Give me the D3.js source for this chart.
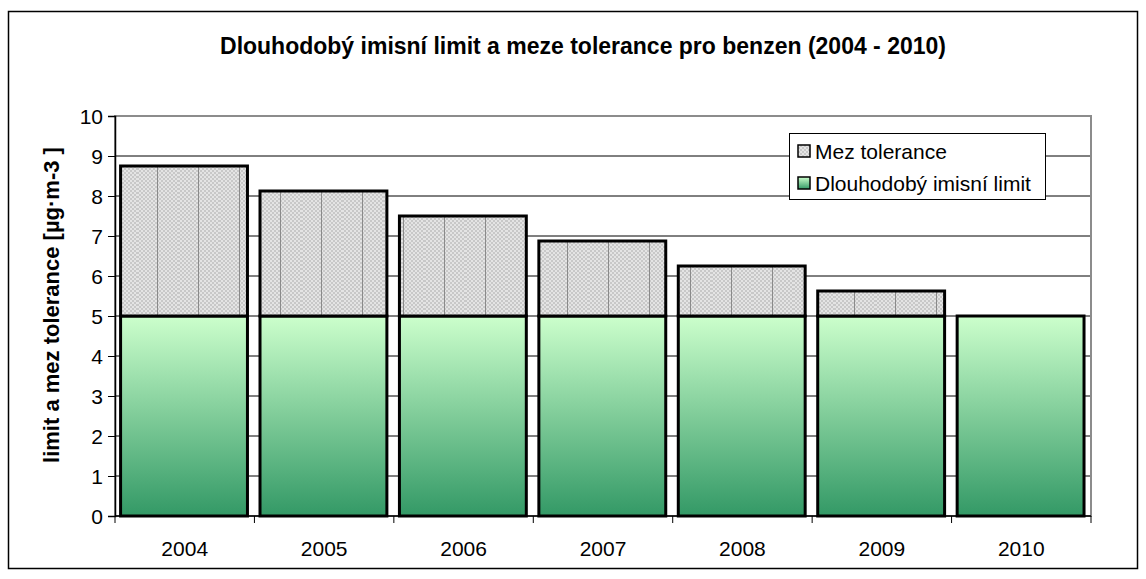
<!DOCTYPE html>
<meta charset="utf-8">
<style>
    body { margin: 0; background: #fff; }
    text { font-family: Arial, "Liberation Sans", sans-serif; fill: #000; }
    .title { font-size: 23px; font-weight: bold; text-anchor: middle; }
    .ylabel { font-size: 22px; font-weight: bold; text-anchor: middle; }
    .tick text { font-size: 21px; }
    .legend text { font-size: 21px; }
</style>
<svg width="1146" height="579"></svg>
<script src="https://d3js.org/d3.v7.min.js"></script>
<script>

    var years = ["2004", "2005", "2006", "2007", "2008", "2009", "2010"];
    var limit = [5, 5, 5, 5, 5, 5, 5];
    var tolerance = [3.75, 3.125, 2.5, 1.875, 1.25, 0.625, 0];
    var yTicks = [0, 1, 2, 3, 4, 5, 6, 7, 8, 9, 10];
    var seriesNames = ["Mez tolerance", "Dlouhodobý imisní limit"];

    var svg = d3.select("svg"),
        pLeft = 115, pRight = 1091, pTop = 116, pBottom = 516;

    var defs = svg.append("defs");

    var grad = defs.append("linearGradient")
        .attr("id", "green")
        .attr("x1", 0).attr("y1", 0).attr("x2", 0).attr("y2", 1);
    grad.append("stop").attr("offset", "0%").attr("stop-color", "#ccffcc");
    grad.append("stop").attr("offset", "100%").attr("stop-color", "#339966");

    var check = defs.append("pattern")
        .attr("id", "check")
        .attr("patternUnits", "userSpaceOnUse")
        .attr("width", 4).attr("height", 4);
    check.append("rect").attr("width", 4).attr("height", 4).attr("fill", "#e4e4e4");
    check.append("rect").attr("width", 2).attr("height", 2).attr("fill", "#c8c8c8");
    check.append("rect").attr("x", 2).attr("y", 2).attr("width", 2).attr("height", 2).attr("fill", "#c8c8c8");

    var dots = defs.append("pattern")
        .attr("id", "dots")
        .attr("patternUnits", "userSpaceOnUse")
        .attr("x", 14)
        .attr("width", 41).attr("height", 4);
    dots.append("rect").attr("width", 41).attr("height", 4).attr("fill", "url(#check)");
    dots.append("rect").attr("x", 20).attr("width", 1).attr("height", 4).attr("fill", "#8a8a8a");

    // outer frame
    svg.append("rect")
        .attr("x", 8.5).attr("y", 11.5)
        .attr("width", 1129).attr("height", 557)
        .attr("fill", "none").attr("stroke", "#000").attr("stroke-width", 1.5);

    svg.append("text")
        .attr("class", "title")
        .attr("x", 583).attr("y", 54)
        .text("Dlouhodobý imisní limit a meze tolerance pro benzen (2004 - 2010)");

    var x = d3.scaleBand().domain(years).range([pLeft, pRight]).padding(0);
    var y = d3.scaleLinear().domain([0, 10]).range([pBottom, pTop]);

    // gridlines
    svg.append("g").selectAll("line")
        .data(yTicks.slice(1, -1))
        .enter().append("line")
        .attr("x1", pLeft).attr("x2", pRight)
        .attr("y1", function (d) { return y(d); })
        .attr("y2", function (d) { return y(d); })
        .attr("stroke", "#000").attr("stroke-width", 1);

    // plot frame
    svg.append("rect")
        .attr("x", pLeft).attr("y", pTop)
        .attr("width", pRight - pLeft).attr("height", pBottom - pTop)
        .attr("fill", "none").attr("stroke", "#8c8c8c").attr("stroke-width", 2);

    var off = x.step() * 0.04, bw = x.step() * 0.91;

    var bars = svg.append("g");
    bars.selectAll("rect.lim")
        .data(years)
        .enter().append("rect")
        .attr("class", "lim")
        .attr("x", function (d) { return x(d) + off; })
        .attr("y", function (d, i) { return y(limit[i]); })
        .attr("width", bw)
        .attr("height", function (d, i) { return y(0) - y(limit[i]); })
        .attr("fill", "url(#green)")
        .attr("stroke", "#000").attr("stroke-width", 3);

    bars.selectAll("rect.tol")
        .data(years.filter(function (d, i) { return tolerance[i] > 0; }))
        .enter().append("rect")
        .attr("class", "tol")
        .attr("x", function (d) { return x(d) + off; })
        .attr("y", function (d) { var i = years.indexOf(d); return y(limit[i] + tolerance[i]); })
        .attr("width", bw)
        .attr("height", function (d) { var i = years.indexOf(d); return y(limit[i]) - y(limit[i] + tolerance[i]); })
        .attr("fill", "url(#dots)")
        .attr("stroke", "#000").attr("stroke-width", 3);

    // axes
    var yAxis = svg.append("g")
        .attr("transform", "translate(" + pLeft + ",0)")
        .call(d3.axisLeft(y).tickValues(yTicks).tickSize(7).tickPadding(5));
    yAxis.select(".domain").attr("stroke", "#000").attr("stroke-width", 1.5);
    yAxis.selectAll(".tick line").attr("stroke", "#000");
    yAxis.selectAll(".tick text").attr("dy", "0.36em");

    var xAxis = svg.append("g")
        .attr("transform", "translate(0," + pBottom + ")");
    xAxis.append("line")
        .attr("x1", pLeft).attr("x2", pRight)
        .attr("stroke", "#000").attr("stroke-width", 1.5);
    xAxis.selectAll("line.t")
        .data(years.concat(["end"]))
        .enter().append("line")
        .attr("class", "t")
        .attr("x1", function (d) { return d === "end" ? pRight : x(d); })
        .attr("x2", function (d) { return d === "end" ? pRight : x(d); })
        .attr("y1", 0).attr("y2", 7)
        .attr("stroke", "#000");
    xAxis.selectAll("text")
        .data(years)
        .enter().append("text")
        .attr("x", function (d) { return x(d) + x.bandwidth() / 2; })
        .attr("y", 40)
        .attr("text-anchor", "middle")
        .style("font-size", "21px")
        .text(function (d) { return d; });

    svg.append("text")
        .attr("class", "ylabel")
        .attr("transform", "translate(59,305) rotate(-90)")
        .text("limit a mez tolerance [µg·m-3 ]");

    // legend
    var lg = svg.append("g").attr("class", "legend");
    lg.append("rect")
        .attr("x", 789.5).attr("y", 133.5)
        .attr("width", 256).attr("height", 66)
        .attr("fill", "#fff").attr("stroke", "#000").attr("stroke-width", 1);
    var item = lg.selectAll("g.item")
        .data(seriesNames)
        .enter().append("g")
        .attr("class", "item")
        .attr("transform", function (d, i) { return "translate(798," + (151 + i * 32) + ")"; });
    item.append("rect")
        .attr("x", 0).attr("y", -6)
        .attr("width", 12).attr("height", 12)
        .attr("fill", function (d, i) { return i === 0 ? "url(#check)" : "url(#green)"; })
        .attr("stroke", "#000").attr("stroke-width", 1.5);
    item.append("text")
        .attr("x", 17).attr("dy", "0.36em")
        .text(function (d) { return d; });

</script>
